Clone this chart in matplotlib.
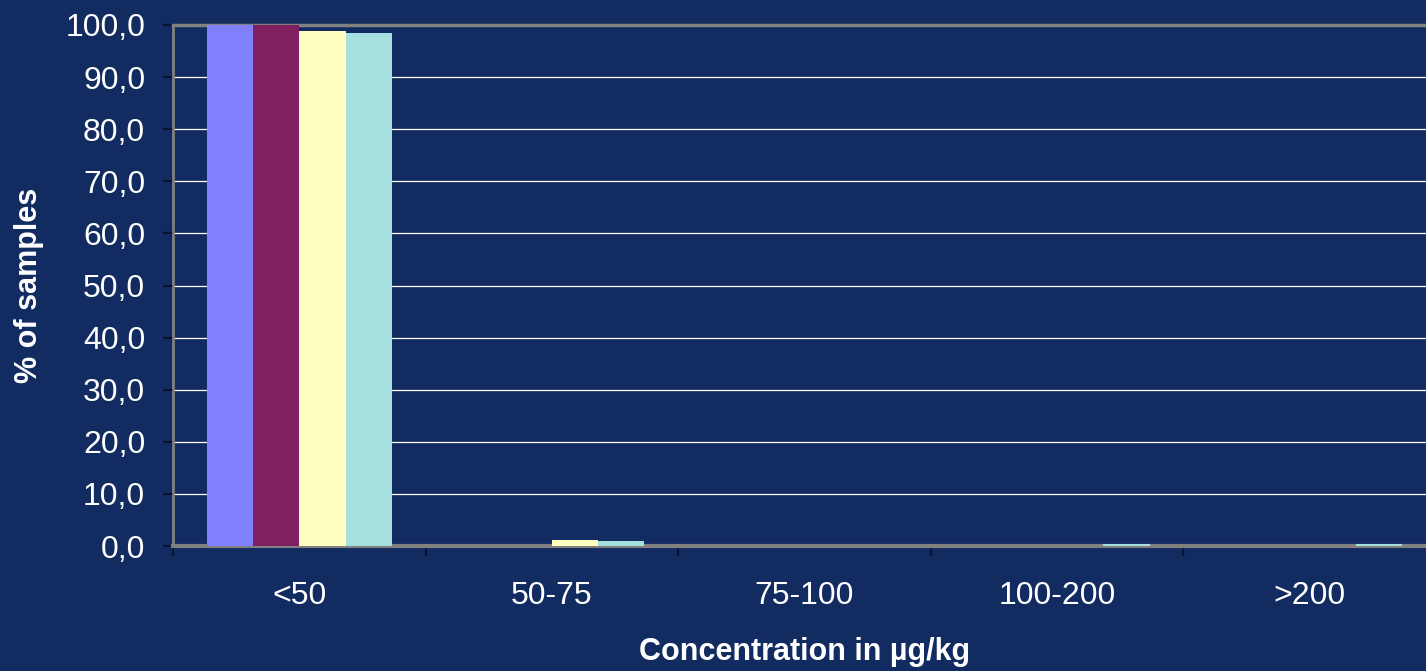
import numpy as np
import matplotlib.pyplot as plt

plt.rcParams['font.family'] = ['Liberation Sans', 'DejaVu Sans']

# concentration classes and share of samples per series
categories = ['<50', '50-75', '75-100', '100-200', '>200']
series_a = [100.0, 0.0, 0.0, 0.0, 0.0]
series_b = [100.0, 0.0, 0.0, 0.0, 0.0]
series_c = [98.9, 1.1, 0.0, 0.0, 0.0]
series_d = [98.5, 1.0, 0.0, 0.3, 0.3]

colors = ['#8080FF', '#802060', '#FFFFC0', '#A6E0E0']
bg = '#122B61'

fig = plt.figure(figsize=(14.26, 6.71), dpi=100, facecolor=bg)
ax = fig.add_axes([173 / 1426, 1 - 546 / 671, 1263 / 1426, 521 / 671])
ax.set_facecolor(bg)

x = np.arange(len(categories))
w = 0.183
for i, (vals, c) in enumerate(zip([series_a, series_b, series_c, series_d], colors)):
    ax.bar(x + (i - 1.5) * w, vals, width=w, color=c, zorder=3, linewidth=0)

ax.set_xlim(-0.5, len(categories) - 0.5)
ax.set_ylim(0, 100)

# grid
ax.set_yticks(np.arange(0, 101, 10))
ax.set_yticklabels([f'{v:.1f}'.replace('.', ',') for v in np.arange(0, 101, 10)],
                   color='white', fontsize=23)
ax.yaxis.grid(True, color='white', linewidth=0.9, zorder=0)
ax.tick_params(axis='y', direction='out', length=7, width=1.5, color='#0A1430', pad=13)

# category labels centered, boundary ticks
ax.set_xticks(x)
ax.set_xticklabels(categories, color='white', fontsize=23)
ax.tick_params(axis='x', which='major', length=0, pad=25)
ax.set_xticks(np.arange(-0.5, len(categories) + 0.5, 1), minor=True)
ax.tick_params(axis='x', which='minor', direction='out', length=7, width=1.5, color='#0A1430')

for side in ['left', 'top', 'bottom']:
    ax.spines[side].set_color('#808080')
ax.spines['left'].set_linewidth(2)
ax.spines['top'].set_linewidth(2.5)
ax.spines['bottom'].set_linewidth(3)
ax.spines['right'].set_visible(False)

ax.set_ylabel('% of samples', color='white', fontsize=22, fontweight='bold')
ax.yaxis.set_label_coords((44 - 173) / 1263, (546 - 285) / 521)
ax.set_xlabel('Concentration in µg/kg', color='white', fontsize=22, fontweight='bold')
ax.xaxis.set_label_coords((805 - 173) / 1263, -(637 - 546) / 521)

fig.savefig('out.png', dpi=100, facecolor=bg)
